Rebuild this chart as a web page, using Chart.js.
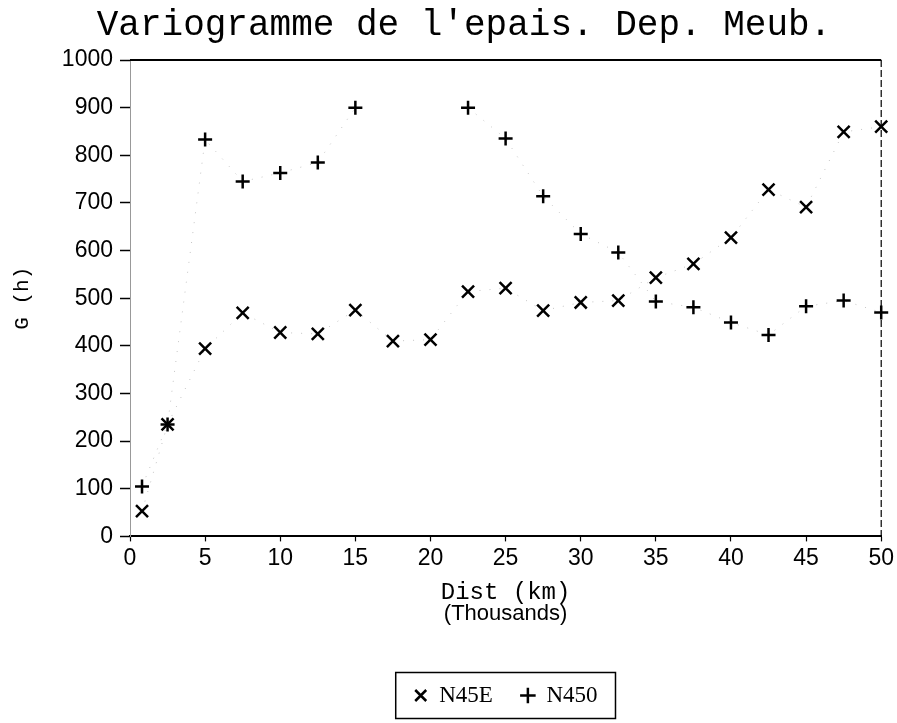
<!DOCTYPE html>
<html><head><meta charset="utf-8">
<script src="https://cdn.jsdelivr.net/npm/chart.js@4/dist/chart.umd.min.js"></script>
<style>html,body{margin:0;padding:0;background:#fff;}#wrap{width:897px;height:723px;}</style>
</head><body><div id="wrap"><canvas id="c" width="897" height="723"></canvas></div>
<script>
const chartTitle = "Variogramme de l'epais. Dep. Meub.";
const xTitle = "Dist (km)";
const xSubTitle = "(Thousands)";
const yTitle = "G (h)";
const seriesNames = ["N45E", "N450"];
const lags = [0.8, 2.5, 5, 7.5, 10, 12.5, 15, 17.5, 20, 22.5, 25, 27.5, 30, 32.5, 35, 37.5, 40, 42.5, 45, 47.5, 50];
const n45e = [53, 235, 394, 469, 428, 425, 475, 410, 413, 514, 521, 474, 491, 495, 543, 572, 627, 728, 691, 849, 860];
const n450 = [105, 235, 833, 745, 763, 785, 900, null, null, 900, 835, 714, 635, 596, 493, 481, 449, 423, 483, 495, 470];

const toPts = vals => lags.map((x, i) => ({x: x, y: vals[i]}));

const framePlugin = {
  id: 'frame',
  afterDraw(chart) {
    const {ctx, chartArea: a} = chart;
    ctx.save();
    ctx.strokeStyle = '#000';
    ctx.lineWidth = 2;
    ctx.beginPath(); ctx.moveTo(a.left, a.top); ctx.lineTo(a.right, a.top); ctx.stroke();
    ctx.lineWidth = 1.2;
    ctx.setLineDash([7, 3]);
    ctx.beginPath(); ctx.moveTo(a.right, a.top); ctx.lineTo(a.right, a.bottom); ctx.stroke();
    const lg = chart.legend;
    if (lg && lg.legendHitBoxes && lg.legendHitBoxes.length) {
      const hb = lg.legendHitBoxes;
      const l = Math.min(...hb.map(h => h.left)) - 18;
      const r = Math.max(...hb.map(h => h.left + h.width)) + 18;
      const t = Math.min(...hb.map(h => h.top));
      const b = Math.max(...hb.map(h => h.top + h.height));
      const cy = (t + b) / 2;
      ctx.setLineDash([]);
      ctx.lineWidth = 1.5;
      ctx.strokeRect(l, cy - 23, r - l, 46);
    }
    ctx.restore();
  }
};

const common = {
  showLine: true,
  borderColor: '#c4c4c4',
  borderWidth: 1,
  borderDash: [1, 9],
  pointBorderColor: '#000',
  pointBackgroundColor: '#000',
  pointBorderWidth: 2.5,
  pointHoverRadius: 8,
  clip: false,
  spanGaps: false
};

new Chart(document.getElementById('c'), {
  type: 'scatter',
  data: {
    datasets: [
      Object.assign({}, common, {label: seriesNames[0], data: toPts(n45e), pointStyle: 'crossRot', pointRadius: 8.5}),
      Object.assign({}, common, {label: seriesNames[1], data: toPts(n450), pointStyle: 'cross', pointRadius: 7})
    ]
  },
  options: {
    responsive: false,
    animation: false,
    devicePixelRatio: 1,
    layout: {padding: {left: 45, right: 14, top: 0, bottom: 6}},
    plugins: {
      tooltip: {enabled: false},
      title: {
        display: true, text: chartTitle, color: '#000',
        font: {family: "'Liberation Mono', 'DejaVu Sans Mono', monospace", size: 36, weight: 'normal', lineHeight: 1.2},
        padding: {top: 4, bottom: 12.8}
      },
      subtitle: {
        display: true, text: xSubTitle, position: 'bottom', weight: 500, fullSize: false, color: '#000',
        font: {family: "'Liberation Sans', Arial, sans-serif", size: 22, weight: 'normal', lineHeight: 0.8},
        padding: {top: 1, bottom: 33}
      },
      legend: {
        display: true, position: 'bottom', fullSize: false,
        labels: {
          usePointStyle: true, boxWidth: 14, boxHeight: 11, padding: 28, color: '#000',
          font: {family: "'Liberation Serif', 'Times New Roman', serif", size: 23}
        }
      }
    },
    scales: {
      x: {
        type: 'linear', min: 0, max: 50,
        afterFit(scale) { scale.height = 68; },
        ticks: {stepSize: 5, color: '#000', padding: 3, font: {family: "'Liberation Sans', Arial, sans-serif", size: 23}},
        grid: {drawOnChartArea: false, drawTicks: true, tickLength: 5, color: '#000', tickWidth: 1.2},
        border: {display: true, color: '#000', width: 2},
        title: {display: true, text: xTitle, color: '#000', padding: {top: 0, bottom: 0},
          font: {family: "'Liberation Mono', 'DejaVu Sans Mono', monospace", size: 24, lineHeight: 1}}
      },
      y: {
        type: 'linear', min: 0, max: 1000,
        afterFit(scale) { scale.width = 85; },
        ticks: {stepSize: 100, color: '#000', padding: 7,
          callback: v => String(v),
          font: {family: "'Liberation Sans', Arial, sans-serif", size: 23}},
        grid: {drawOnChartArea: false, drawTicks: true, tickLength: 10, color: '#000', tickWidth: 1.5},
        border: {display: true, color: '#999', width: 1, dash: [1, 4]},
        title: {display: true, text: yTitle, color: '#000', padding: {top: -35, bottom: 0},
          font: {family: "'Liberation Mono', 'DejaVu Sans Mono', monospace", size: 21, lineHeight: 1.2}}
      }
    }
  },
  plugins: [framePlugin]
});
</script>
</body></html>
